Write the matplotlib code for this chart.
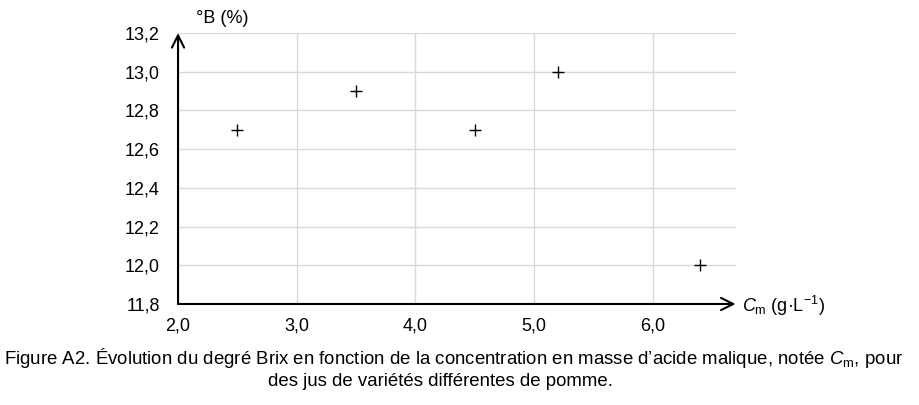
import numpy as np
import matplotlib.pyplot as plt

plt.rcParams['font.family'] = ['Liberation Sans', 'DejaVu Sans']
plt.rcParams['mathtext.fontset'] = 'custom'
plt.rcParams['mathtext.rm'] = 'Liberation Sans'
plt.rcParams['mathtext.it'] = 'Liberation Sans:italic'

# data
cm = [2.5, 3.5, 4.5, 5.2, 6.4]
brix = [12.7, 12.9, 12.7, 13.0, 12.0]
xticks = [2.0, 3.0, 4.0, 5.0, 6.0]
yticks = [11.8, 12.0, 12.2, 12.4, 12.6, 12.8, 13.0, 13.2]

fig = plt.figure(figsize=(9.2, 4.05), dpi=100)
ax = fig.add_axes([0.1935, 0.2494, 0.606, 0.669])

ax.plot(cm, brix, ls='none', marker='+', color='black', ms=8, mew=1)

ax.set_xlim(2.0, 6.7)
ax.set_ylim(11.8, 13.2)
ax.set_xticks(xticks)
ax.set_yticks(yticks)
ax.set_xticklabels([f"{v:.1f}".replace('.', ',') for v in xticks], fontsize=13)
ax.set_yticklabels([f"{v:.1f}".replace('.', ',') for v in yticks], fontsize=13)
ax.tick_params(axis='y', length=0, pad=13)
ax.tick_params(axis='x', length=0, pad=10)
ax.grid(True, color='#d9d9d9', lw=1)
ax.set_axisbelow(True)
for s in ax.spines.values():
    s.set_visible(False)

# axes arrows
ax.annotate('', xy=(1.0, 0), xytext=(0, 0), xycoords='axes fraction',
            arrowprops=dict(arrowstyle='->', color='black', lw=1.5,
                            mutation_scale=22, shrinkA=0, shrinkB=0))
ax.annotate('', xy=(0, 1.0), xytext=(0, 0), xycoords='axes fraction',
            arrowprops=dict(arrowstyle='->', color='black', lw=1.5,
                            mutation_scale=22, shrinkA=0, shrinkB=0))

fig.text(0.806, 0.245, r'$\mathit{C}_\mathrm{m}$ (g·L$^{\mathrm{-1}}$)', fontsize=13,
         va='center', ha='left')
fig.text(0.213, 0.955, '°B (%)', fontsize=13, va='center', ha='left')

fig.text(0.4935, 0.116, "Figure A2. Évolution du degré Brix en fonction de la concentration en masse d’acide malique, notée $\\mathit{C}_\\mathrm{m}$, pour",
         fontsize=13.4, ha='center', va='center')
fig.text(0.479, 0.057, "des jus de variétés différentes de pomme.", fontsize=13.4,
         ha='center', va='center')

fig.savefig('out.png', dpi=100, facecolor='w')
